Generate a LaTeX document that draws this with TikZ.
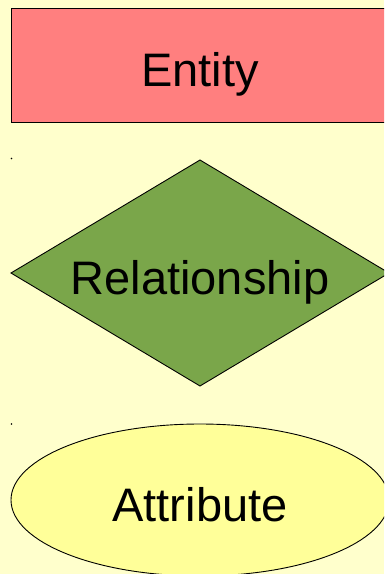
\documentclass[tikz,border=0pt]{standalone}
\usepackage{fontspec}
\setmainfont{Liberation Sans}
\definecolor{bgc}{HTML}{FFFFCC}
\definecolor{entc}{HTML}{FF7F7F}
\definecolor{relc}{HTML}{7AA64A}
\definecolor{attc}{HTML}{FFFF99}
\begin{document}
\begin{tikzpicture}[x=1pt,y=-1pt,
  shapeline/.style={draw=black,line width=0.9pt},
  lbl/.style={anchor=base,inner sep=0pt,font=\fontsize{47}{56}\selectfont}]
\useasboundingbox (0,0) rectangle (384,574);
\clip (0,0) rectangle (384,574);
\fill[bgc] (0,0) rectangle (384,574);
% entity
\path[shapeline,fill=entc] (11,8) rectangle (400,122);
\node[lbl] (ent) at (200,86) {Entity};
% relationship
\coordinate (dt) at (200,160);
\coordinate (dl) at (11,273);
\coordinate (db) at (200,386);
\coordinate (dr) at (389,273);
\path[shapeline,fill=relc] (dt) -- (dr) -- (db) -- (dl) -- cycle;
\node[lbl] (rel) at (200,294) {Relationship};
% attribute
\path[shapeline,fill=attc] (200,500) ellipse [x radius=189, y radius=76];
\node[lbl] (att) at (200,521) {Attribute};
% small dots
\fill (11.5,158.5) circle (0.8);
\fill (11.5,424) circle (0.8);
\end{tikzpicture}
\end{document}
